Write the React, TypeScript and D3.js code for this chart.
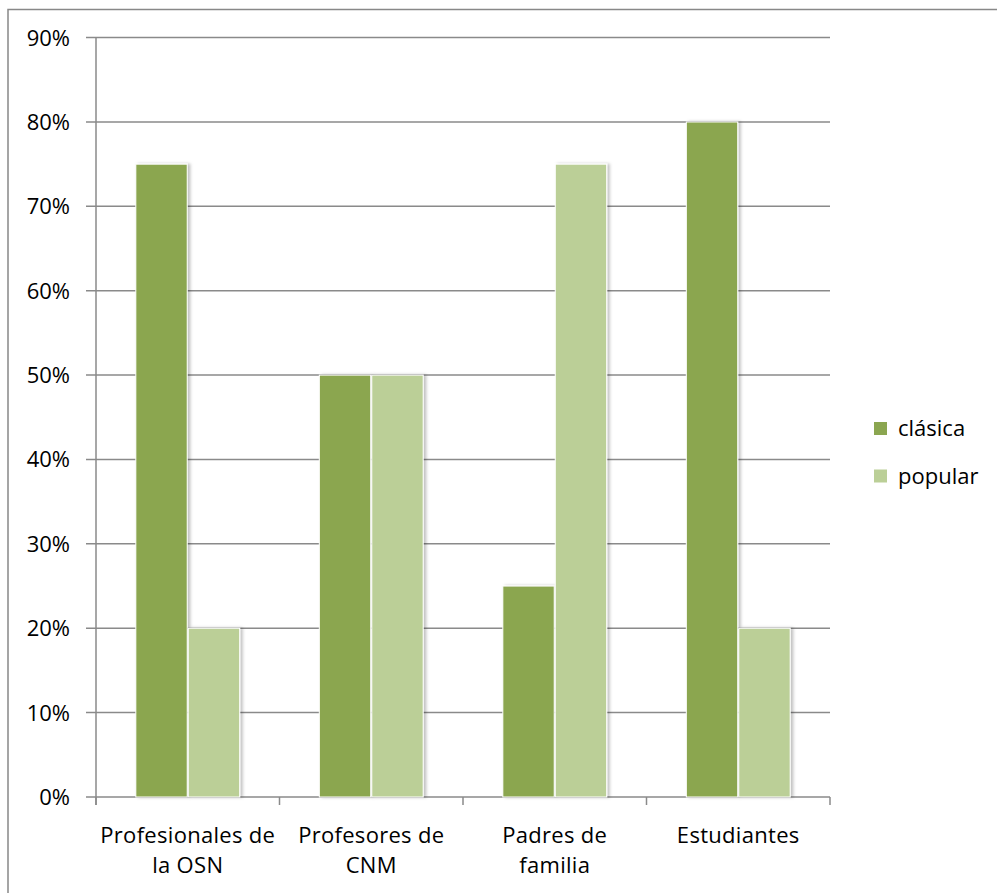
import React from "react";
import * as d3 from "d3";

const categories: string[][] = [
  ["Profesionales de", "la OSN"],
  ["Profesores de", "CNM"],
  ["Padres de", "familia"],
  ["Estudiantes"],
];
const seriesNames = ["clásica", "popular"];
const clasica = [75, 50, 25, 80];
const popular = [20, 50, 75, 20];
const yTicks = [0, 10, 20, 30, 40, 50, 60, 70, 80, 90];
const colors = ["#8ba650", "#bbcf97"];

const W = 997;
const H = 893;
const left = 96;
const right = 830;
const top = 37.6;
const bottom = 797;

export default function App() {
  const x = d3.scaleBand<number>().domain(d3.range(categories.length)).range([left, right]).paddingInner(0).paddingOuter(0);
  const y = d3.scaleLinear().domain([0, 90]).range([bottom, top]);
  const bw = x.bandwidth();
  const groupPad = 0.217 * bw;
  const x1 = d3.scaleBand<number>().domain([0, 1]).range([groupPad, bw - groupPad]).paddingInner(0.02);
  const series = [clasica, popular];
  const font = "'Open Sans', 'Noto Sans', sans-serif";
  const gridColor = "#8a8a8a";
  const fs = 22;

  return (
    <svg width={W} height={H} style={{ position: "absolute", left: 0, top: 0, background: "#fff" }} fontFamily={font}>
      <defs>
        <filter id="sh" x="-20%" y="-5%" width="140%" height="110%">
          <feDropShadow dx="2.5" dy="0" stdDeviation="1.5" floodColor="#000" floodOpacity="0.25" />
        </filter>
      </defs>
      <rect x={8} y={9.5} width={W + 20} height={H + 20} fill="#fff" stroke="#888" strokeWidth={1.5} />
      {yTicks.map((t) => (
        <g key={t}>
          <line x1={left - 10} x2={right} y1={y(t)} y2={y(t)} stroke={gridColor} strokeWidth={1.5} />
          <text x={70} y={y(t)} dy="0.36em" textAnchor="end" fontSize={fs} fill="#000">{t}%</text>
        </g>
      ))}
      <line x1={left} x2={left} y1={top} y2={bottom + 8} stroke={gridColor} strokeWidth={1.5} />
      {d3.range(categories.length + 1).map((i) => {
        const xx = left + i * bw;
        return <line key={i} x1={xx} x2={xx} y1={bottom} y2={bottom + 8} stroke={gridColor} strokeWidth={1.5} />;
      })}
      {series.map((vals, s) => (
        <g key={s} filter="url(#sh)">
          {vals.map((v, i) => (
            <rect
              key={i}
              x={(x(i) as number) + (x1(s) as number)}
              y={y(v)}
              width={x1.bandwidth()}
              height={bottom - y(v)}
              fill={colors[s]}
              stroke="#fff"
              strokeWidth={1}
            />
          ))}
        </g>
      ))}
      {categories.map((lines, i) => (
        <text key={i} textAnchor="middle" fontSize={fs} fill="#000" letterSpacing={0.3}>
          {lines.map((l, j) => (
            <tspan key={j} x={(x(i) as number) + bw / 2} y={843 + j * 30}>{l}</tspan>
          ))}
        </text>
      ))}
      {seriesNames.map((n, i) => (
        <g key={n}>
          <rect x={874} y={422 + i * 47.5} width={13} height={13} fill={colors[i]} />
          <text x={898} y={436 + i * 47.5} fontSize={fs} fill="#000">{n}</text>
        </g>
      ))}
    </svg>
  );
}
